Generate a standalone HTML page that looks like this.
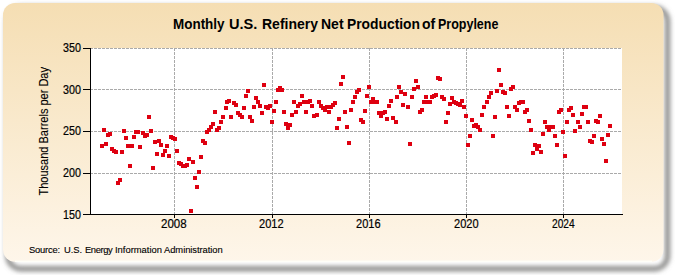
<!DOCTYPE html>
<html><head><meta charset="utf-8"><style>
html,body{margin:0;padding:0;background:#fff;width:675px;height:275px;overflow:hidden}
svg{position:absolute;left:0;top:0}
text{font-family:"Liberation Sans",sans-serif}
</style></head><body>
<svg width="675" height="275" viewBox="0 0 675 275">
<defs>
<linearGradient id="bg" x1="0" y1="0" x2="0" y2="1">
<stop offset="0" stop-color="#F5DEB3"/><stop offset="1" stop-color="#FEF6EA"/>
</linearGradient>
<filter id="sh" x="-10%" y="-10%" width="120%" height="120%"><feGaussianBlur stdDeviation="2.6"/></filter>
</defs>
<rect x="8" y="8" width="659.5" height="260.8" rx="13" ry="13" fill="none" stroke="#767674" stroke-width="4.5" filter="url(#sh)"/>
<rect x="3" y="3" width="660.5" height="258.8" rx="12" ry="12" fill="url(#bg)"/>
<path d="M652,261.2 H15" fill="none" stroke="#FFFFF8" stroke-width="1.6" stroke-opacity="0.9"/>
<rect x="90" y="48" width="532" height="166" fill="#fff"/>
<g stroke="#AAAAAA" stroke-width="1" stroke-dasharray="3 1" fill="none"><line x1="90" y1="48.5" x2="622" y2="48.5"/><line x1="90" y1="89.5" x2="622" y2="89.5"/><line x1="90" y1="131.5" x2="622" y2="131.5"/><line x1="90" y1="173.5" x2="622" y2="173.5"/><line x1="174.5" y1="48" x2="174.5" y2="214"/><line x1="272.5" y1="48" x2="272.5" y2="214"/><line x1="369.5" y1="48" x2="369.5" y2="214"/><line x1="466.5" y1="48" x2="466.5" y2="214"/><line x1="563.5" y1="48" x2="563.5" y2="214"/></g>
<g fill="#DE0010"><rect x="100" y="144" width="4" height="4"/><rect x="102" y="128" width="4" height="4"/><rect x="104" y="142" width="4" height="4"/><rect x="106" y="133" width="4" height="4"/><rect x="108" y="132" width="4" height="4"/><rect x="110" y="147" width="4" height="4"/><rect x="112" y="149" width="4" height="4"/><rect x="114" y="150" width="4" height="4"/><rect x="116" y="181" width="4" height="4"/><rect x="118" y="178" width="4" height="4"/><rect x="120" y="150" width="4" height="4"/><rect x="122" y="129" width="4" height="4"/><rect x="124" y="136" width="4" height="4"/><rect x="126" y="144" width="4" height="4"/><rect x="128" y="164" width="4" height="4"/><rect x="130" y="144" width="4" height="4"/><rect x="132" y="135" width="4" height="4"/><rect x="134" y="130" width="4" height="4"/><rect x="136" y="130" width="4" height="4"/><rect x="138" y="145" width="4" height="4"/><rect x="141" y="131" width="4" height="4"/><rect x="143" y="134" width="4" height="4"/><rect x="145" y="133" width="4" height="4"/><rect x="147" y="115" width="4" height="4"/><rect x="149" y="129" width="4" height="4"/><rect x="151" y="166" width="4" height="4"/><rect x="153" y="140" width="4" height="4"/><rect x="155" y="152" width="4" height="4"/><rect x="157" y="139" width="4" height="4"/><rect x="159" y="143" width="4" height="4"/><rect x="161" y="153" width="4" height="4"/><rect x="163" y="149" width="4" height="4"/><rect x="165" y="144" width="4" height="4"/><rect x="167" y="154" width="4" height="4"/><rect x="169" y="135" width="4" height="4"/><rect x="171" y="136" width="4" height="4"/><rect x="173" y="137" width="4" height="4"/><rect x="175" y="149" width="4" height="4"/><rect x="177" y="161" width="4" height="4"/><rect x="179" y="162" width="4" height="4"/><rect x="181" y="164" width="4" height="4"/><rect x="183" y="164" width="4" height="4"/><rect x="185" y="163" width="4" height="4"/><rect x="187" y="157" width="4" height="4"/><rect x="189" y="209" width="4" height="4"/><rect x="191" y="160" width="4" height="4"/><rect x="193" y="176" width="4" height="4"/><rect x="195" y="185" width="4" height="4"/><rect x="197" y="170" width="4" height="4"/><rect x="199" y="155" width="4" height="4"/><rect x="201" y="139" width="4" height="4"/><rect x="203" y="141" width="4" height="4"/><rect x="205" y="130" width="4" height="4"/><rect x="207" y="128" width="4" height="4"/><rect x="209" y="125" width="4" height="4"/><rect x="211" y="122" width="4" height="4"/><rect x="213" y="110" width="4" height="4"/><rect x="215" y="128" width="4" height="4"/><rect x="217" y="126" width="4" height="4"/><rect x="219" y="120" width="4" height="4"/><rect x="221" y="115" width="4" height="4"/><rect x="224" y="106" width="4" height="4"/><rect x="225" y="100" width="4" height="4"/><rect x="227" y="99" width="4" height="4"/><rect x="229" y="115" width="4" height="4"/><rect x="232" y="101" width="4" height="4"/><rect x="234" y="103" width="4" height="4"/><rect x="236" y="111" width="4" height="4"/><rect x="238" y="113" width="4" height="4"/><rect x="240" y="115" width="4" height="4"/><rect x="242" y="106" width="4" height="4"/><rect x="244" y="94" width="4" height="4"/><rect x="246" y="89" width="4" height="4"/><rect x="248" y="115" width="4" height="4"/><rect x="250" y="119" width="4" height="4"/><rect x="252" y="105" width="4" height="4"/><rect x="254" y="96" width="4" height="4"/><rect x="256" y="100" width="4" height="4"/><rect x="258" y="104" width="4" height="4"/><rect x="260" y="111" width="4" height="4"/><rect x="262" y="83" width="4" height="4"/><rect x="264" y="105" width="4" height="4"/><rect x="266" y="106" width="4" height="4"/><rect x="268" y="104" width="4" height="4"/><rect x="270" y="120" width="4" height="4"/><rect x="272" y="109" width="4" height="4"/><rect x="274" y="100" width="4" height="4"/><rect x="276" y="88" width="4" height="4"/><rect x="278" y="86" width="4" height="4"/><rect x="280" y="88" width="4" height="4"/><rect x="282" y="110" width="4" height="4"/><rect x="284" y="122" width="4" height="4"/><rect x="286" y="126" width="4" height="4"/><rect x="288" y="123" width="4" height="4"/><rect x="290" y="113" width="4" height="4"/><rect x="292" y="100" width="4" height="4"/><rect x="294" y="110" width="4" height="4"/><rect x="296" y="104" width="4" height="4"/><rect x="298" y="102" width="4" height="4"/><rect x="300" y="94" width="4" height="4"/><rect x="302" y="100" width="4" height="4"/><rect x="304" y="110" width="4" height="4"/><rect x="306" y="100" width="4" height="4"/><rect x="308" y="99" width="4" height="4"/><rect x="310" y="104" width="4" height="4"/><rect x="312" y="114" width="4" height="4"/><rect x="315" y="113" width="4" height="4"/><rect x="317" y="100" width="4" height="4"/><rect x="319" y="104" width="4" height="4"/><rect x="321" y="106" width="4" height="4"/><rect x="323" y="108" width="4" height="4"/><rect x="325" y="105" width="4" height="4"/><rect x="327" y="110" width="4" height="4"/><rect x="329" y="105" width="4" height="4"/><rect x="331" y="103" width="4" height="4"/><rect x="333" y="101" width="4" height="4"/><rect x="335" y="126" width="4" height="4"/><rect x="337" y="117" width="4" height="4"/><rect x="339" y="82" width="4" height="4"/><rect x="341" y="75" width="4" height="4"/><rect x="343" y="110" width="4" height="4"/><rect x="345" y="125" width="4" height="4"/><rect x="347" y="141" width="4" height="4"/><rect x="349" y="108" width="4" height="4"/><rect x="351" y="100" width="4" height="4"/><rect x="353" y="95" width="4" height="4"/><rect x="355" y="90" width="4" height="4"/><rect x="357" y="88" width="4" height="4"/><rect x="359" y="118" width="4" height="4"/><rect x="361" y="120" width="4" height="4"/><rect x="363" y="109" width="4" height="4"/><rect x="365" y="94" width="4" height="4"/><rect x="367" y="85" width="4" height="4"/><rect x="369" y="100" width="4" height="4"/><rect x="371" y="97" width="4" height="4"/><rect x="373" y="100" width="4" height="4"/><rect x="375" y="100" width="4" height="4"/><rect x="377" y="111" width="4" height="4"/><rect x="379" y="114" width="4" height="4"/><rect x="381" y="111" width="4" height="4"/><rect x="383" y="110" width="4" height="4"/><rect x="385" y="117" width="4" height="4"/><rect x="387" y="104" width="4" height="4"/><rect x="389" y="99" width="4" height="4"/><rect x="391" y="116" width="4" height="4"/><rect x="394" y="120" width="4" height="4"/><rect x="395" y="95" width="4" height="4"/><rect x="397" y="85" width="4" height="4"/><rect x="399" y="90" width="4" height="4"/><rect x="401" y="103" width="4" height="4"/><rect x="403" y="92" width="4" height="4"/><rect x="406" y="105" width="4" height="4"/><rect x="408" y="142" width="4" height="4"/><rect x="410" y="95" width="4" height="4"/><rect x="412" y="87" width="4" height="4"/><rect x="414" y="79" width="4" height="4"/><rect x="416" y="85" width="4" height="4"/><rect x="418" y="110" width="4" height="4"/><rect x="420" y="108" width="4" height="4"/><rect x="422" y="100" width="4" height="4"/><rect x="424" y="95" width="4" height="4"/><rect x="426" y="100" width="4" height="4"/><rect x="428" y="100" width="4" height="4"/><rect x="430" y="95" width="4" height="4"/><rect x="432" y="94" width="4" height="4"/><rect x="434" y="93" width="4" height="4"/><rect x="436" y="76" width="4" height="4"/><rect x="438" y="77" width="4" height="4"/><rect x="440" y="95" width="4" height="4"/><rect x="442" y="97" width="4" height="4"/><rect x="444" y="120" width="4" height="4"/><rect x="446" y="111" width="4" height="4"/><rect x="448" y="102" width="4" height="4"/><rect x="450" y="96" width="4" height="4"/><rect x="452" y="100" width="4" height="4"/><rect x="454" y="101" width="4" height="4"/><rect x="456" y="102" width="4" height="4"/><rect x="458" y="103" width="4" height="4"/><rect x="460" y="99" width="4" height="4"/><rect x="462" y="105" width="4" height="4"/><rect x="464" y="114" width="4" height="4"/><rect x="466" y="143" width="4" height="4"/><rect x="468" y="134" width="4" height="4"/><rect x="470" y="118" width="4" height="4"/><rect x="472" y="124" width="4" height="4"/><rect x="474" y="123" width="4" height="4"/><rect x="476" y="125" width="4" height="4"/><rect x="478" y="128" width="4" height="4"/><rect x="480" y="113" width="4" height="4"/><rect x="482" y="105" width="4" height="4"/><rect x="485" y="100" width="4" height="4"/><rect x="487" y="95" width="4" height="4"/><rect x="489" y="91" width="4" height="4"/><rect x="491" y="134" width="4" height="4"/><rect x="493" y="115" width="4" height="4"/><rect x="495" y="89" width="4" height="4"/><rect x="497" y="68" width="4" height="4"/><rect x="499" y="83" width="4" height="4"/><rect x="501" y="90" width="4" height="4"/><rect x="503" y="91" width="4" height="4"/><rect x="505" y="105" width="4" height="4"/><rect x="507" y="114" width="4" height="4"/><rect x="509" y="87" width="4" height="4"/><rect x="511" y="85" width="4" height="4"/><rect x="513" y="105" width="4" height="4"/><rect x="515" y="108" width="4" height="4"/><rect x="517" y="101" width="4" height="4"/><rect x="519" y="100" width="4" height="4"/><rect x="521" y="100" width="4" height="4"/><rect x="523" y="110" width="4" height="4"/><rect x="525" y="108" width="4" height="4"/><rect x="527" y="119" width="4" height="4"/><rect x="529" y="128" width="4" height="4"/><rect x="531" y="151" width="4" height="4"/><rect x="533" y="143" width="4" height="4"/><rect x="535" y="147" width="4" height="4"/><rect x="537" y="144" width="4" height="4"/><rect x="539" y="150" width="4" height="4"/><rect x="541" y="132" width="4" height="4"/><rect x="543" y="120" width="4" height="4"/><rect x="545" y="125" width="4" height="4"/><rect x="547" y="128" width="4" height="4"/><rect x="549" y="125" width="4" height="4"/><rect x="551" y="125" width="4" height="4"/><rect x="553" y="134" width="4" height="4"/><rect x="555" y="143" width="4" height="4"/><rect x="557" y="110" width="4" height="4"/><rect x="559" y="108" width="4" height="4"/><rect x="561" y="130" width="4" height="4"/><rect x="563" y="154" width="4" height="4"/><rect x="565" y="120" width="4" height="4"/><rect x="567" y="108" width="4" height="4"/><rect x="569" y="106" width="4" height="4"/><rect x="571" y="113" width="4" height="4"/><rect x="573" y="129" width="4" height="4"/><rect x="576" y="120" width="4" height="4"/><rect x="578" y="125" width="4" height="4"/><rect x="580" y="112" width="4" height="4"/><rect x="582" y="105" width="4" height="4"/><rect x="584" y="105" width="4" height="4"/><rect x="586" y="120" width="4" height="4"/><rect x="588" y="139" width="4" height="4"/><rect x="590" y="140" width="4" height="4"/><rect x="592" y="134" width="4" height="4"/><rect x="594" y="119" width="4" height="4"/><rect x="596" y="120" width="4" height="4"/><rect x="598" y="114" width="4" height="4"/><rect x="600" y="137" width="4" height="4"/><rect x="602" y="142" width="4" height="4"/><rect x="604" y="159" width="4" height="4"/><rect x="606" y="133" width="4" height="4"/><rect x="608" y="124" width="4" height="4"/></g>
<g stroke="#000" stroke-width="1" fill="none">
<line x1="90.5" y1="48" x2="90.5" y2="215"/>
<line x1="90" y1="214.5" x2="623" y2="214.5"/>
<line x1="83" y1="48.5" x2="90" y2="48.5"/><line x1="83" y1="89.5" x2="90" y2="89.5"/><line x1="83" y1="131.5" x2="90" y2="131.5"/><line x1="83" y1="173.5" x2="90" y2="173.5"/><line x1="83" y1="214.5" x2="90" y2="214.5"/><line x1="174.5" y1="214" x2="174.5" y2="218"/><line x1="272.5" y1="214" x2="272.5" y2="218"/><line x1="369.5" y1="214" x2="369.5" y2="218"/><line x1="466.5" y1="214" x2="466.5" y2="218"/><line x1="563.5" y1="214" x2="563.5" y2="218"/>
</g>
<g font-size="12" fill="#000" stroke="#000" stroke-width="0.2"><text x="63" y="52" textLength="17.923" lengthAdjust="spacingAndGlyphs">350</text><text x="63" y="94" textLength="17.923" lengthAdjust="spacingAndGlyphs">300</text><text x="63" y="135" textLength="17.923" lengthAdjust="spacingAndGlyphs">250</text><text x="63" y="177" textLength="17.923" lengthAdjust="spacingAndGlyphs">200</text><text x="63" y="219" textLength="17.923" lengthAdjust="spacingAndGlyphs">150</text><text x="161" y="228" textLength="25.635" lengthAdjust="spacingAndGlyphs">2008</text><text x="259" y="228" textLength="24.567" lengthAdjust="spacingAndGlyphs">2012</text><text x="356" y="228" textLength="24.567" lengthAdjust="spacingAndGlyphs">2016</text><text x="454" y="228" textLength="24.567" lengthAdjust="spacingAndGlyphs">2020</text><text x="552" y="228" textLength="22.638" lengthAdjust="spacingAndGlyphs">2024</text></g>
<g font-size="14" font-weight="bold" fill="#000"><text x="173" y="29" textLength="51.55" lengthAdjust="spacingAndGlyphs">Monthly</text><text x="229" y="29" textLength="28.37" lengthAdjust="spacingAndGlyphs">U.S.</text><text x="262" y="29" textLength="56.03" lengthAdjust="spacingAndGlyphs">Refinery</text><text x="321" y="29" textLength="22.56" lengthAdjust="spacingAndGlyphs">Net</text><text x="347" y="29" textLength="73.0" lengthAdjust="spacingAndGlyphs">Production</text><text x="422" y="29" textLength="13.22" lengthAdjust="spacingAndGlyphs">of</text><text x="438" y="29" textLength="60.41" lengthAdjust="spacingAndGlyphs">Propylene</text></g>
<text x="0" y="0" font-size="12" textLength="128.5" lengthAdjust="spacingAndGlyphs" transform="translate(48,195.5) rotate(-90)" fill="#000" stroke="#000" stroke-width="0.1">Thousand Barrels per Day</text>
<g font-size="9.4" fill="#000" stroke="#000" stroke-width="0.12"><text x="29.0" y="253" letter-spacing="-0.2">Source:</text><text x="64.0" y="253" letter-spacing="-0.05">U.S.</text><text x="85.0" y="253" letter-spacing="-0.4">Energy</text><text x="115.0" y="253" letter-spacing="0">Information</text><text x="164.0" y="253" letter-spacing="-0.05">Administration</text></g>
</svg>
</body></html>
